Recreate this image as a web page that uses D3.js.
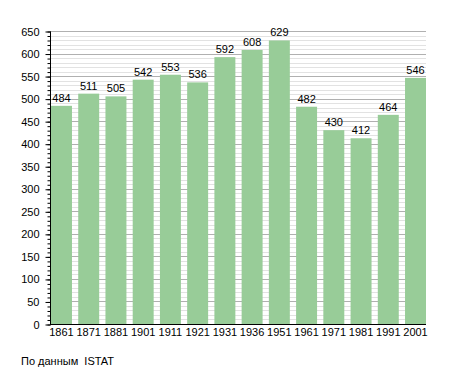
<!DOCTYPE html>
<html>
<head>
<meta charset="utf-8">
<script src="https://cdn.jsdelivr.net/npm/d3@7"></script>
<style>
  body { margin: 0; background: #fff; }
  text { font-family: "Liberation Sans", Arial, sans-serif; font-size: 11px; fill: #000; }
</style>
</head>
<body>
<div id="chart"></div>
<script>
var years = ['1861', '1871', '1881', '1901', '1911', '1921', '1931', '1936', '1951', '1961', '1971', '1981', '1991', '2001'];
var population = [484, 511, 505, 542, 553, 536, 592, 608, 629, 482, 430, 412, 464, 546];
var majorTicks = d3.range(0, 651, 50);
var minorTicks = d3.range(0, 651, 10);
var source = 'По данным  ISTAT';

var _width = 455, _height = 373,
    _left = 50, _right = 426, _top = 31, _bottom = 324;

var svg = d3.select('#chart').append('svg')
    .attr('width', _width)
    .attr('height', _height);

var x = d3.scaleBand()
    .domain(years)
    .range([_left + 1, _right])
    .paddingInner(0.23)
    .paddingOuter(0);

var y = d3.scaleLinear()
    .domain([0, 650])
    .range([_bottom, _top]);

// minor grid
svg.append('g')
  .selectAll('line')
  .data(minorTicks.filter(function(d) { return d % 50 !== 0; }))
  .enter().append('line')
    .attr('x1', _left).attr('x2', _right)
    .attr('y1', function(d) { return Math.round(y(d)) + 0.5; })
    .attr('y2', function(d) { return Math.round(y(d)) + 0.5; })
    .attr('stroke', '#e2e2e2');

// major grid
svg.append('g')
  .selectAll('line')
  .data(majorTicks.filter(function(d) { return d > 0; }))
  .enter().append('line')
    .attr('x1', _left).attr('x2', _right)
    .attr('y1', function(d) { return Math.round(y(d)) + 0.5; })
    .attr('y2', function(d) { return Math.round(y(d)) + 0.5; })
    .attr('stroke', '#b0b0b0');

// bars
svg.append('g')
  .selectAll('rect')
  .data(population)
  .enter().append('rect')
    .attr('x', function(d, i) { return x(years[i]); })
    .attr('y', function(d) { return y(d); })
    .attr('width', x.bandwidth())
    .attr('height', function(d) { return _bottom - y(d); })
    .attr('fill', '#98cc98');

// value labels
svg.append('g')
  .selectAll('text')
  .data(population)
  .enter().append('text')
    .attr('x', function(d, i) { return x(years[i]) + x.bandwidth() / 2; })
    .attr('y', function(d) { return y(d) - 4; })
    .attr('text-anchor', 'middle')
    .text(function(d) { return d; });

// y axis
var yAxis = d3.axisLeft(y)
    .tickValues(majorTicks)
    .tickSize(5)
    .tickPadding(6);

var yMinor = d3.axisLeft(y)
    .tickValues(minorTicks)
    .tickSize(3)
    .tickFormat('');

svg.append('g')
    .attr('transform', 'translate(' + (_left + 0.5) + ',0.5)')
    .call(yMinor)
    .call(function(g) { g.select('.domain').remove(); });

svg.append('g')
    .attr('transform', 'translate(' + (_left + 0.5) + ',0.5)')
    .call(yAxis)
    .call(function(g) {
      g.select('.domain').attr('d', 'M0,' + _top + 'V' + _bottom);
      g.selectAll('text').style('font-size', '11px').style('font-family', '"Liberation Sans", Arial, sans-serif');
    });

// x axis
svg.append('line')
    .attr('x1', _left).attr('x2', _right)
    .attr('y1', _bottom + 0.5).attr('y2', _bottom + 0.5)
    .attr('stroke', '#000');

svg.append('g')
  .selectAll('text')
  .data(years)
  .enter().append('text')
    .attr('x', function(d) { return x(d) + x.bandwidth() / 2; })
    .attr('y', _bottom + 12)
    .attr('text-anchor', 'middle')
    .text(function(d) { return d; });

svg.append('text')
    .attr('x', 21)
    .attr('y', 365)
    .style('white-space', 'pre')
    .text(source);
</script>
</body>
</html>
